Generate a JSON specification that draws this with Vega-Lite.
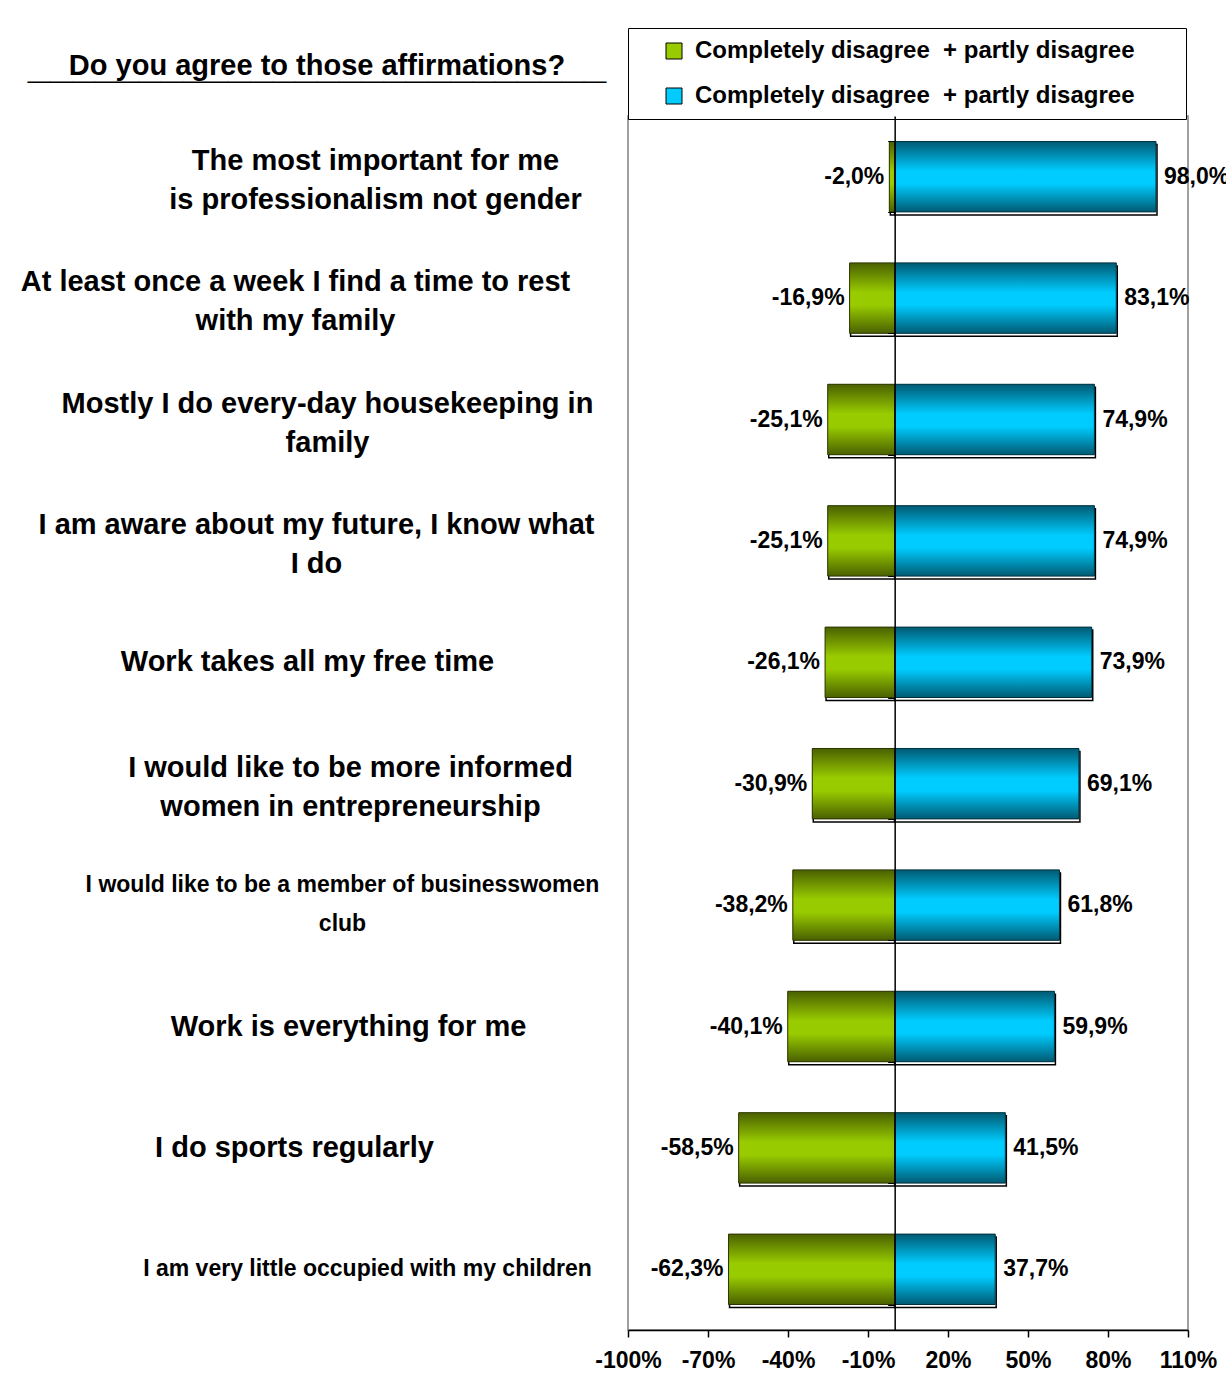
{
  "$schema": "https://vega.github.io/schema/vega-lite/v6.json",
  "autosize": {"type": "none"},
  "padding": {"left": 628, "top": 116, "right": 38, "bottom": 55},
  "width": 560,
  "height": 1214,
  "background": "white",
  "title": {
    "text": "Do you agree to those affirmations?",
    "subtitle": "__________________________",
    "anchor": "start",
    "frame": "group",
    "align": "center",
    "dx": -311,
    "offset": -64,
    "font": "Liberation Sans",
    "fontSize": 29,
    "fontWeight": "bold",
    "color": "black",
    "subtitleFont": "Liberation Sans",
    "subtitleFontSize": 40,
    "subtitleFontWeight": "bold",
    "subtitleColor": "black",
    "subtitlePadding": -35
  },
  "data": {
    "values": [
      {"item": "The most important for me|is professionalism not gender", "series": "Disagree", "value": -0.020},
      {"item": "The most important for me|is professionalism not gender", "series": "Agree", "value": 0.980},
      {"item": "At least once a week I find a time to rest|with my family", "series": "Disagree", "value": -0.169},
      {"item": "At least once a week I find a time to rest|with my family", "series": "Agree", "value": 0.831},
      {"item": "Mostly I do every-day housekeeping in|family", "series": "Disagree", "value": -0.251},
      {"item": "Mostly I do every-day housekeeping in|family", "series": "Agree", "value": 0.749},
      {"item": "I am aware about my future, I know what|I do", "series": "Disagree", "value": -0.251},
      {"item": "I am aware about my future, I know what|I do", "series": "Agree", "value": 0.749},
      {"item": "Work takes all my free time", "series": "Disagree", "value": -0.261},
      {"item": "Work takes all my free time", "series": "Agree", "value": 0.739},
      {"item": "I would like to be more informed|women in entrepreneurship", "series": "Disagree", "value": -0.309},
      {"item": "I would like to be more informed|women in entrepreneurship", "series": "Agree", "value": 0.691},
      {"item": "I would like to be a member of businesswomen|club", "series": "Disagree", "value": -0.382},
      {"item": "I would like to be a member of businesswomen|club", "series": "Agree", "value": 0.618},
      {"item": "Work is everything for me", "series": "Disagree", "value": -0.401},
      {"item": "Work is everything for me", "series": "Agree", "value": 0.599},
      {"item": "I do sports regularly", "series": "Disagree", "value": -0.585},
      {"item": "I do sports regularly", "series": "Agree", "value": 0.415},
      {"item": "I am very little occupied with my children", "series": "Disagree", "value": -0.623},
      {"item": "I am very little occupied with my children", "series": "Agree", "value": 0.377}
    ]
  },
  "resolve": {"axis": {"x": "independent", "y": "independent"}},
  "layer": [
    {
      "mark": {"type": "bar", "fill": "white", "stroke": "black", "strokeWidth": 1.5, "xOffset": 1, "yOffset": 3},
      "encoding": {
        "x": {
          "field": "value", "type": "quantitative", "stack": null,
          "scale": {"domain": [-1, 1.1], "nice": false, "zero": false},
          "axis": {
            "orient": "bottom",
            "values": [-1, -0.7, -0.4, -0.1, 0.2, 0.5, 0.8, 1.1],
            "format": ".0%", "title": null, "grid": false,
            "domainColor": "black", "domainWidth": 1.5, "tickColor": "black", "tickSize": 7, "tickWidth": 1.5,
            "labelFont": "Liberation Sans", "labelFontSize": 23, "labelFontWeight": "bold",
            "labelColor": "black", "labelPadding": 12, "labelFlush": false
          }
        },
        "y": {
          "field": "item", "type": "nominal", "sort": null,
          "scale": {"paddingInner": 0.42, "paddingOuter": 0.21},
          "axis": {
            "orient": "left", "title": null, "domain": false, "ticks": false, "grid": false,
            "labelPadding": {
              "condition": [
                {"test": "datum.value == 'The most important for me|is professionalism not gender'", "value": 253},
                {"test": "datum.value == 'At least once a week I find a time to rest|with my family'", "value": 333},
                {"test": "datum.value == 'Mostly I do every-day housekeeping in|family'", "value": 301},
                {"test": "datum.value == 'I am aware about my future, I know what|I do'", "value": 312},
                {"test": "datum.value == 'Work takes all my free time'", "value": 321},
                {"test": "datum.value == 'I would like to be more informed|women in entrepreneurship'", "value": 278},
                {"test": "datum.value == 'I would like to be a member of businesswomen|club'", "value": 286},
                {"test": "datum.value == 'Work is everything for me'", "value": 280},
                {"test": "datum.value == 'I do sports regularly'", "value": 334}
              ],
              "value": 261
            },
            "labelOffset": {
              "condition": {"test": "indexof(datum.value, '|') >= 0 && datum.value != 'I would like to be a member of businesswomen|club'", "value": 4},
              "value": 0
            },
            "labelAlign": "center",
            "labelBaseline": {
              "condition": {"test": "indexof(datum.value, '|') >= 0", "value": "line-bottom"},
              "value": "middle"
            },
            "labelFont": "Liberation Sans", "labelFontWeight": "bold", "labelColor": "black",
            "labelFontSize": {
              "condition": {"test": "datum.value == 'I would like to be a member of businesswomen|club' || datum.value == 'I am very little occupied with my children'", "value": 23},
              "value": 29
            },
            "labelLineHeight": 39, "labelLimit": 700,
            "labelExpr": "split(datum.label, '|')"
          }
        }
      }
    },
    {
      "mark": {"type": "bar"},
      "encoding": {
        "x": {"field": "value", "type": "quantitative", "stack": null, "axis": null},
        "y": {
          "field": "item", "type": "nominal", "sort": null,
          "axis": {
            "orient": "left", "offset": -266.667, "title": null, "labels": false, "grid": false,
            "domain": true, "domainColor": "black", "domainWidth": 1.5,
            "ticks": true, "tickBand": "extent", "tickSize": 7, "tickColor": "black", "tickWidth": 1,
            "zindex": 1
          }
        },
        "color": {
          "field": "series", "type": "nominal",
          "scale": {"domain": ["Disagree", "Agree"], "range": ["#99cc00", "#00ccff"]},
          "legend": {
            "orient": "none", "legendX": 0, "legendY": -88, "title": null, "direction": "vertical",
            "padding": 11, "strokeColor": "black", "fillColor": "white",
            "symbolType": "square", "symbolSize": 256, "symbolStrokeColor": "black", "symbolStrokeWidth": 1,
            "symbolOffset": 23, "labelOffset": 9, "rowPadding": 21,
            "labelFont": "Liberation Sans", "labelFontSize": 24, "labelFontWeight": "bold", "labelColor": "black",
            "labelLimit": 700,
            "labelExpr": "'Completely disagree\u00a0 + partly disagree\u00a0\u00a0\u00a0\u00a0\u00a0\u00a0\u200b'"
          }
        }
      }
    },
    {
      "transform": [{"filter": "datum.series == 'Disagree'"}],
      "mark": {
        "type": "bar", "stroke": "#2a3500", "strokeWidth": 1,
        "fill": {"gradient": "linear", "x1": 0, "y1": 0, "x2": 0, "y2": 1,
          "stops": [
            {"offset": 0, "color": "#4a6000"},
            {"offset": 0.42, "color": "#99cc00"},
            {"offset": 0.6, "color": "#99cc00"},
            {"offset": 1, "color": "#4a6000"}
          ]}
      },
      "encoding": {
        "x": {"field": "value", "type": "quantitative", "stack": null, "axis": null},
        "y": {"field": "item", "type": "nominal", "sort": null, "axis": null}
      }
    },
    {
      "transform": [{"filter": "datum.series == 'Agree'"}],
      "mark": {
        "type": "bar", "stroke": "#00303d", "strokeWidth": 1,
        "fill": {"gradient": "linear", "x1": 0, "y1": 0, "x2": 0, "y2": 1,
          "stops": [
            {"offset": 0, "color": "#005a73"},
            {"offset": 0.42, "color": "#00ccff"},
            {"offset": 0.6, "color": "#00ccff"},
            {"offset": 1, "color": "#005a73"}
          ]}
      },
      "encoding": {
        "x": {"field": "value", "type": "quantitative", "stack": null, "axis": null},
        "y": {"field": "item", "type": "nominal", "sort": null, "axis": null}
      }
    },
    {
      "transform": [{"filter": "datum.series == 'Disagree'"}],
      "mark": {"type": "text", "align": "right", "baseline": "middle", "dx": -5, "font": "Liberation Sans", "fontSize": 23, "fontWeight": "bold", "color": "black"},
      "encoding": {
        "x": {"field": "value", "type": "quantitative", "stack": null, "axis": null},
        "y": {"field": "item", "type": "nominal", "sort": null, "axis": null},
        "text": {"field": "value", "type": "quantitative", "format": ".1%"}
      }
    },
    {
      "transform": [{"filter": "datum.series == 'Agree'"}],
      "mark": {"type": "text", "align": "left", "baseline": "middle", "dx": 8, "font": "Liberation Sans", "fontSize": 23, "fontWeight": "bold", "color": "black"},
      "encoding": {
        "x": {"field": "value", "type": "quantitative", "stack": null, "axis": null},
        "y": {"field": "item", "type": "nominal", "sort": null, "axis": null},
        "text": {"field": "value", "type": "quantitative", "format": ".1%"}
      }
    }
  ],
  "config": {
    "font": "Liberation Sans",
    "view": {"stroke": "#808080", "strokeWidth": 1.5},
    "locale": {
      "number": {"decimal": ",", "thousands": ".", "grouping": [3], "currency": ["", " €"], "minus": "-"}
    }
  }
}
